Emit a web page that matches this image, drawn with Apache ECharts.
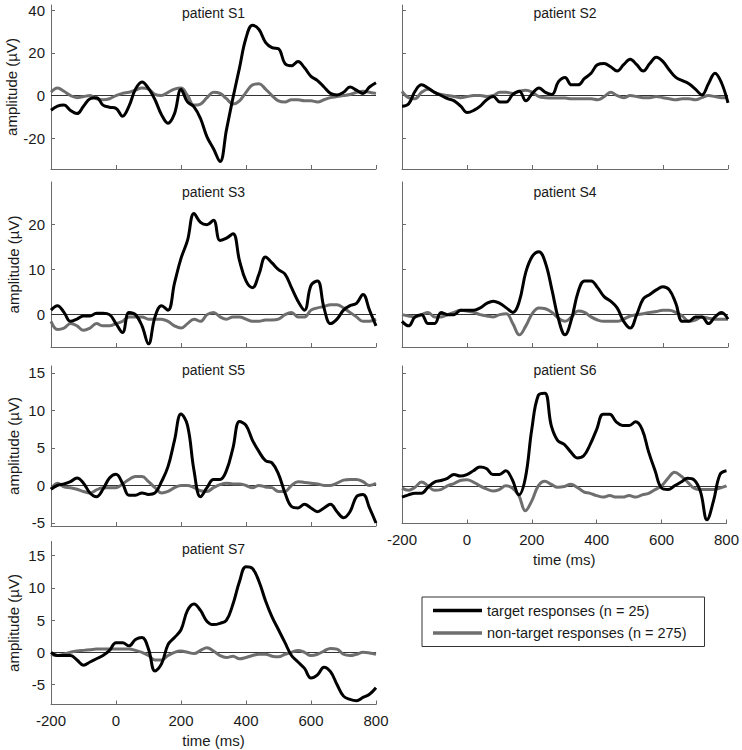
<!DOCTYPE html>
<html>
<head>
<meta charset="utf-8">
<script src="https://cdn.jsdelivr.net/npm/echarts@6.0.0/dist/echarts.min.js"></script>
<style>
html,body{margin:0;padding:0;background:#fff;}
#chart{width:742px;height:750px;}
</style>
</head>
<body>
<div id="chart"></div>
<script>
// time axis (ms)
const time = [-200,-180,-160,-140,-120,-100,-80,-60,-40,-20,0,20,40,60,80,100,120,140,160,180,200,220,240,260,280,300,320,340,360,380,400,420,440,460,480,500,520,540,560,580,600,620,640,660,680,700,720,740,760,780,800];

const panelTitles = ['patient S1','patient S2','patient S3','patient S4','patient S5','patient S6','patient S7'];
const targetName = 'target responses (n = 25)';
const nonTargetName = 'non-target responses (n = 275)';
const xTicks = [-200,0,200,400,600,800];
const yTicksRow1 = [-20,0,20,40];
const yTicksRow2 = [0,10,20];
const yTicksRow3 = [-5,0,5,10,15];
const yTicksRow4 = [-5,0,5,10,15];

// amplitudes (µV)
const s1Target = [-6.9,-5,-4.5,-7,-8.5,-5,-1.5,-1,-4.5,-5.5,-6,-9.7,-5,3,6.4,3.3,-2,-9,-13,-8.5,2.8,-3,-5.3,-10.8,-19.4,-25,-31,-16,-1,13,27,33,31,25,22.5,22,15,14,16,13,9,7,4,1,0.3,1.5,4,2.5,1,4,6];
const s1NonTarget = [1.5,3.5,2,0,-1,-0.5,0,-1.5,-2,-1.5,0,1,1.5,2.5,3.5,3,0.5,0,1.5,3,3.5,0,-4.5,-4,-1,1.5,1,-1.5,-4,-2.5,1.5,5,5.5,3,0,-2.5,-3,-2,-2,-2.5,-2.5,-3,-2,-1,-0.5,0,0.5,1.5,2,1.5,1];
const s2Target = [-5,-4,2,5,3.5,1.5,0,-1.5,-2.5,-5,-8,-7,-5,-2,-0.5,-3,-3,0.5,2,-2.5,1,3.5,1.5,0.5,6.5,8.5,5,5,8,10.5,14.5,15,13.5,11.5,14.5,17,14.5,11.5,15,18,16,12,8.5,7,5.5,3,0.3,5.5,10.5,6,-3.5];
const s2NonTarget = [2,-1,-1.5,1.5,3,1.5,0.5,0,-0.5,-1,-0.5,0,0,-0.5,0,1.5,1.5,1,2,2.5,1.5,-0.5,-1,-1.2,-1.2,-1.2,-1.5,-1.5,-1.5,-1.5,-2,-0.5,1.5,0,-1,0,-0.5,-1,-1,-0.5,-1,-1.5,-2,-1.5,-1.5,-2,-1,0,-0.5,-1,-1];
const s3Target = [1,2,0.5,-1.5,-1,-0.3,-0.3,0.3,0.3,0,-2,-4,0.5,0,-2.5,-6.5,-0.5,2,1,7,12.5,16.5,22.5,20.5,20,21,16.5,17,18,12,7.5,6,9,12.8,11.5,10,9,6,3,1,6.5,7.5,1.5,-2,-1,1,2,2.5,4.5,1,-2.5];
const s3NonTarget = [-1.5,-3.3,-3,-2,-2.5,-3.5,-3,-2,-2.5,-2.5,-2,-1.5,-0.5,-0.5,-0.5,-1,-1,-1,-1.5,-2.5,-3,-2,-1,-1.5,0,0.5,-0.5,-1,-0.5,-0.5,-1,-1.5,-1.5,-1.2,-1.2,-1,0,0.5,-0.5,-0.5,1,1.5,1.8,2.2,2.2,1.5,0.5,-0.5,-1.5,-1.5,-1];
const s4Target = [-1.5,-2.5,-0.5,0,-2,-2,0.5,0,0,1,1,1,1.5,2.5,3,2.5,1.5,0.5,3,9.5,13,14,11.5,5.5,-1,-4.5,-1,5,7.5,7.5,6,4,3,1.5,-1.5,-3,0,3.5,4.5,5.5,6.2,5.5,2.5,-1.5,-1.5,-0.5,-0.5,-2,-0.5,0.5,-1];
const s4NonTarget = [0,-0.3,-0.5,0,0.5,-0.5,-0.5,0,0.5,1,0.8,0.5,0,-0.3,-0.5,0,0.2,-2,-4.5,-2.5,0.3,1.5,1.3,0.5,-0.8,-1.5,-0.5,0.8,0.5,-0.5,-1.2,-1.5,-1.5,-1.5,-1,-0.3,0,0.2,0.5,0.7,1,1,0.5,-0.3,-1.5,-1.2,-0.5,-0.8,-1,-1,-1];
const s5Target = [-0.5,0,0.2,0.5,1,0.3,-1,-1.5,-0.5,1,1.5,0.3,-1.3,-1.3,-1,-1.2,-1,0.5,2.5,6,9.5,8,2,-1.5,-0.3,0.8,0.8,2,5,8.5,8,6,4.5,3.3,3,1.5,-1,-2.8,-3,-2.5,-3,-3.5,-3,-2.5,-3.5,-4.3,-3.5,-1.5,-1.2,-3,-5];
const s5NonTarget = [-0.5,0.3,-0.2,-0.3,-0.5,-0.8,-1,-0.6,-0.3,-0.3,-0.3,0.2,0.8,1.2,1.2,0.5,-0.3,-1,-0.8,-0.3,0,0,-0.3,-0.7,-0.8,-0.3,0.1,0.3,0.2,0.2,0,-0.3,0,-0.2,-0.3,-0.8,-0.8,0,0.5,0.4,0.3,0.2,0,0,0.3,0.7,0.8,0.8,0.5,0,0.3];
const s6Target = [-1.5,-1.2,-1,-1,-0.2,0.5,0.7,1,1.5,1.3,1.5,2,2.5,2.3,1.5,1.5,2,0.8,-1.2,1,7.5,12,12.3,8,6,5.5,4.5,3.7,4,5.5,7.5,9.5,9.5,8.5,8,8,8.5,7.5,4.5,2,-0.3,-0.5,0,0.5,1,0.8,-0.8,-4.5,-2,1.5,2];
const s6NonTarget = [-0.3,-0.6,-0.2,0.5,0,-0.6,-0.5,0,0.3,0.7,0.8,0.5,0,-0.4,-0.7,-0.5,0,-0.3,-1.3,-3.3,-2,0,0.6,0.2,-0.2,-0.1,0.2,-0.2,-0.8,-1,-1.3,-1.5,-1.3,-1.5,-1.5,-1.3,-1.5,-1.2,-1,-0.5,0,1,1.8,1.3,0.5,-0.3,-0.5,-0.5,-0.5,-0.3,0];
const s7Target = [0,-0.5,-0.5,-0.5,-1.2,-2,-1.5,-1,-0.5,0.3,1.5,1.5,1,2,2.3,0.5,-2.9,-1.8,1.2,2.3,3.5,6.5,7.5,6.5,4.8,4.3,4.5,5,7.5,11,13.3,13,11,8,5.5,3.5,1.5,-0.5,-1.5,-2.5,-4,-3.5,-2.3,-3,-5,-6.8,-7.3,-7.5,-7,-6.5,-5.5];
const s7NonTarget = [-0.3,-0.5,-0.3,0,0.2,0.3,0.4,0.5,0.5,0.5,0.5,0.5,0.5,0.3,0,-0.5,-1.2,-1.2,-0.5,0,0.2,0,-0.2,0.3,0.7,0.2,-0.5,-0.8,-0.6,-1,-0.8,-0.5,-0.3,-0.3,-0.6,-0.7,-0.3,0,0.3,0,-0.5,-0.3,0.2,0.6,0.5,-0.3,-0.5,-0.3,0,-0.1,-0.3];

const targets = [s1Target,s2Target,s3Target,s4Target,s5Target,s6Target,s7Target];
const nonTargets = [s1NonTarget,s2NonTarget,s3NonTarget,s4NonTarget,s5NonTarget,s6NonTarget,s7NonTarget];

// layout (pixels) and axis ranges
const FONT = 'Liberation Sans';
const panels = [
  {left:51, top:5, width:325, height:164, ymin:-34.5, ymax:42.5, ticks:yTicksRow1, ylab:true, xlab:false, ty:13.5},
  {left:402, top:5, width:326, height:164, ymin:-34.5, ymax:42.5, ticks:yTicksRow1, ylab:false, xlab:false, ty:13.5},
  {left:51, top:182, width:325, height:165, ymin:-7.2, ymax:29.5, ticks:yTicksRow2, ylab:true, xlab:false, ty:193},
  {left:402, top:182, width:326, height:165, ymin:-7.2, ymax:29.5, ticks:yTicksRow2, ylab:false, xlab:false, ty:193},
  {left:51, top:366, width:325, height:160, ymin:-5.4, ymax:15.9, ticks:yTicksRow3, ylab:true, xlab:false, ty:371},
  {left:402, top:366, width:326, height:157.5, ymin:-5, ymax:15.9, ticks:yTicksRow3, ylab:false, xlab:true, ty:371},
  {left:51, top:541.5, width:325, height:163, ymin:-8.1, ymax:17.2, ticks:yTicksRow4, ylab:true, xlab:true, ty:550}
];

const axisColor = '#6a6a6a';
const textColor = '#1a1a1a';

const grid = [], xAxis = [], yAxis = [], series = [], title = [];
panels.forEach((p, i) => {
  grid.push({left:p.left, top:p.top, width:p.width, height:p.height, containLabel:false});
  xAxis.push({
    type:'value', gridIndex:i, min:-200, max:800, interval:200,
    axisLine:{show:true, onZero:false, lineStyle:{color:axisColor, width:1}},
    axisTick:{show:true, inside:true, length:4, customValues:xTicks, lineStyle:{color:axisColor}},
    axisLabel:{show:p.xlab, margin:8, customValues:xTicks, color:textColor, fontSize:15, fontFamily:FONT},
    splitLine:{show:false},
    name: p.xlab ? 'time (ms)' : '', nameLocation:'middle', nameGap:28,
    nameTextStyle:{color:textColor, fontSize:15, fontFamily:FONT}
  });
  yAxis.push({
    type:'value', gridIndex:i, min:p.ymin, max:p.ymax,
    axisLine:{show:true, onZero:false, lineStyle:{color:axisColor, width:1}},
    axisTick:{show:true, inside:true, length:4, customValues:p.ticks, lineStyle:{color:axisColor}},
    axisLabel:{show:p.ylab, margin:6, customValues:p.ticks, color:textColor, fontSize:15, fontFamily:FONT},
    splitLine:{show:false},
    name: p.ylab ? 'amplitude (µV)' : '', nameLocation:'middle', nameGap:30, nameRotate:90,
    nameTextStyle:{color:textColor, fontSize:15, fontFamily:FONT}
  });
  series.push({
    name:nonTargetName, type:'line', xAxisIndex:i, yAxisIndex:i,
    data: time.map((t, j) => [t, nonTargets[i][j]]),
    showSymbol:false, symbol:'none', smooth:0.4, z:2,
    lineStyle:{color:'#6e6e6e', width:3}, itemStyle:{color:'#6e6e6e'},
    markLine:{silent:true, symbol:'none', label:{show:false}, z:1,
      lineStyle:{color:'#333', width:1, type:'solid'}, data:[{yAxis:0}]}
  });
  series.push({
    name:targetName, type:'line', xAxisIndex:i, yAxisIndex:i,
    data: time.map((t, j) => [t, targets[i][j]]),
    showSymbol:false, symbol:'none', smooth:0.4, z:3,
    lineStyle:{color:'#000', width:3}, itemStyle:{color:'#000'}
  });
  title.push({
    text:panelTitles[i], left:p.left + p.width/2, top:p.ty - 8, textAlign:'center', padding:0,
    textStyle:{color:textColor, fontSize:14, fontFamily:FONT, fontWeight:'normal'}
  });
});

const chart = echarts.init(document.getElementById('chart'), null, {renderer:'svg'});
chart.setOption({
  animation:false,
  backgroundColor:'#fff',
  title, grid, xAxis, yAxis, series,
  legend:{
    data:[targetName, nonTargetName],
    orient:'vertical', left:422, top:597,
    icon:'rect',
    padding:[5,18,5,11], itemGap:5.5, itemWidth:49, itemHeight:3.5,
    borderColor:'#333', borderWidth:1, backgroundColor:'#fff',
    selectedMode:false,
    textStyle:{color:textColor, fontSize:14.5, fontFamily:FONT, lineHeight:17}
  }
});
</script>
</body>
</html>
